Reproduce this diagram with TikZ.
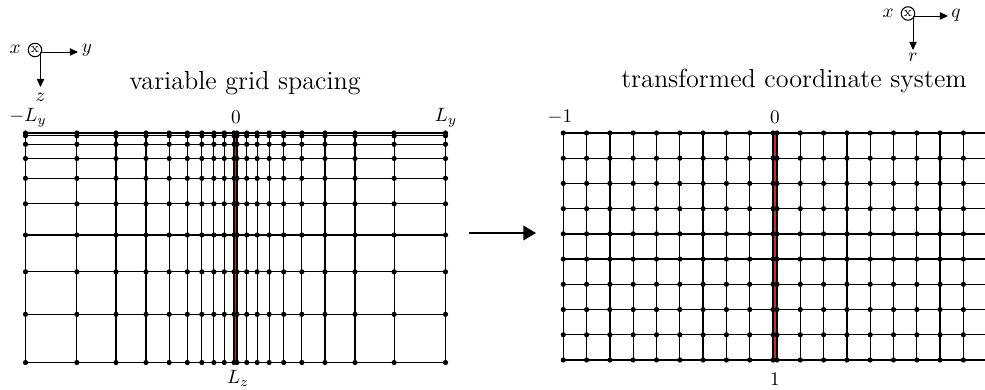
\documentclass[tikz,border=0pt]{standalone}
\usetikzlibrary{arrows.meta}
\definecolor{stripred}{RGB}{205,45,45}
\tikzset{
  gridline/.style={black, line width=0.65pt},
  strip/.style={fill=stripred},
  axis/.style={black, line width=0.5pt, -{Triangle[length=4.2pt,width=3.8pt]}},
  origin/.style={draw, circle, line width=0.55pt, inner sep=0pt, minimum size=7pt, font=\scriptsize},
  heading/.style={anchor=base, inner sep=0.5pt, font=\fontsize{13.6}{16}\selectfont},
}
\begin{document}
\begin{tikzpicture}[x=0.52pt,y=-0.52pt]
\useasboundingbox (0,0) rectangle (985,390);
% physical grid, stretched in y and z
\fill[strip] (234,133) rectangle (237,362.5);
\foreach \i in {0,...,9}{
  \pgfmathsetmacro{\zz}{133+229.5*(\i/9)^2}
  \draw[gridline] (25.5,\zz) -- (445.5,\zz);
}
\foreach \k in {0,...,9}{
  \pgfmathsetmacro{\dd}{208.5*sinh(2.5*\k/9)/sinh(2.5)}
  \draw[gridline] (234-\dd,133) -- (234-\dd,362.5);
  \draw[gridline] (237+\dd,133) -- (237+\dd,362.5);
  \foreach \i in {0,...,9}{
    \pgfmathsetmacro{\zz}{133+229.5*(\i/9)^2}
    \fill[black] (234-\dd,\zz) circle (2.6);
    \fill[black] (237+\dd,\zz) circle (2.6);
  }
}
% transformed grid, uniform
\fill[strip] (773,133) rectangle (777,360);
\foreach \i in {0,...,9}{
  \pgfmathsetmacro{\rr}{133+227*\i/9}
  \draw[gridline] (563.3,\rr) -- (985,\rr);
}
\foreach \k in {0,...,9}{
  \pgfmathsetmacro{\qq}{23.3*\k}
  \draw[gridline] (773-\qq,133) -- (773-\qq,360);
  \foreach \i in {0,...,9}{
    \pgfmathsetmacro{\rr}{133+227*\i/9}
    \fill[black] (773-\qq,\rr) circle (2.6);
  }
}
\foreach \k in {0,...,8}{
  \pgfmathsetmacro{\qq}{23.3*\k}
  \draw[gridline] (777+\qq,133) -- (777+\qq,360);
  \foreach \i in {0,...,9}{
    \pgfmathsetmacro{\rr}{133+227*\i/9}
    \fill[black] (777+\qq,\rr) circle (2.6);
  }
}
% labels
\node (lyminus) at (28,118) {$-L_y$};
\node (lzero) at (236,117) {$0$};
\node (lyplus) at (446,118) {$L_y$};
\node (lzdepth) at (238,378) {$L_z$};
\node (qminus) at (560,117) {$-1$};
\node (qzero) at (775,117) {$0$};
\node (rone) at (775,379) {$1$};
\node[heading] (ltitle) at (245,90) {variable grid spacing};
\node[heading] (rtitle) at (794,88) {transformed coordinate system};
% map arrow
\coordinate (mapfrom) at (469,233);
\coordinate (mapto) at (536,233);
\draw[line width=0.8pt, -{Triangle[length=6.6pt,width=7.6pt]}] (mapfrom) -- (mapto);
% left axes
\node[origin] (lox) at (35,50) {x};
\coordinate (lo) at (40.5,52);
\coordinate (laxy) at (78,52);
\coordinate (laxz) at (40.5,87);
\draw[axis] (lo) -- (laxy);
\draw[axis] (lo) -- (laxz);
\node (lxname) at (15,49) {$x$};
\node (lyname) at (87,50) {$y$};
\node (lzname) at (40.5,97) {$z$};
% right axes
\node[origin] (rox) at (908,13.5) {x};
\coordinate (ro) at (913,16);
\coordinate (raxq) at (948,16);
\coordinate (raxr) at (913,50);
\draw[axis] (ro) -- (raxq);
\draw[axis] (ro) -- (raxr);
\node (rxname) at (888,13) {$x$};
\node (rqname) at (956,15) {$q$};
\node[inner sep=0.5pt] (rrname) at (913,57.5) {$r$};
\end{tikzpicture}
\end{document}
